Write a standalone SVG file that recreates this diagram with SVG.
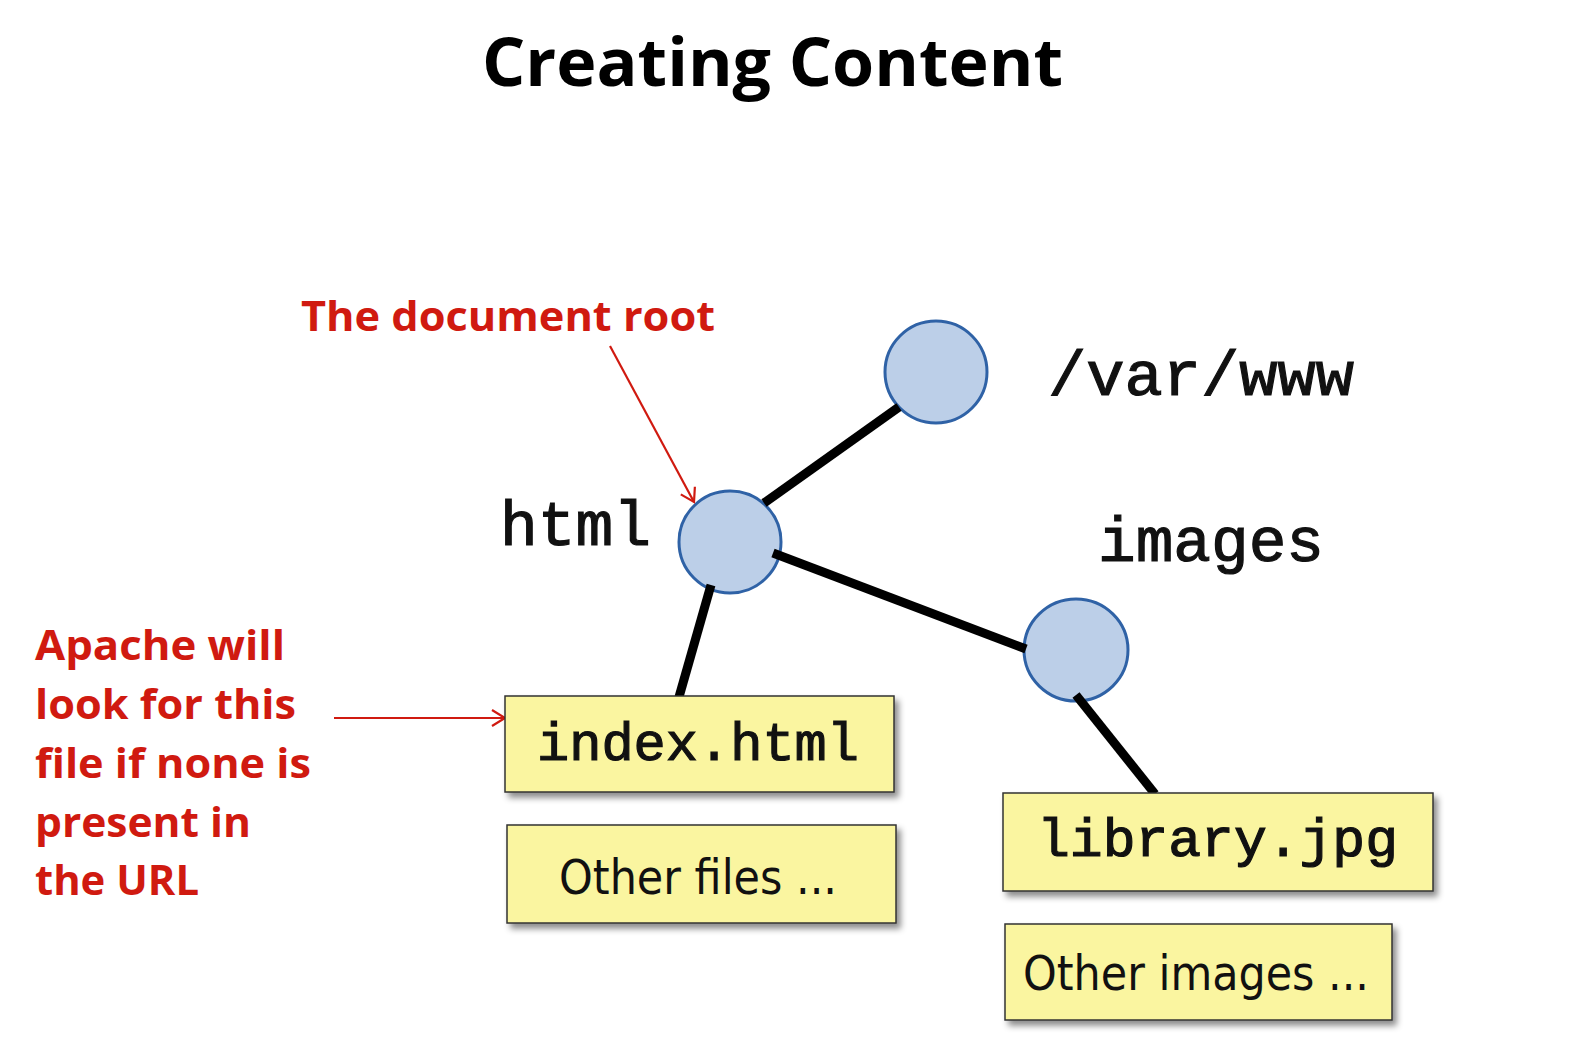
<svg xmlns="http://www.w3.org/2000/svg" width="1588" height="1062" viewBox="0 0 1588 1062">
<style>
.title{font-family:"Open Sans","Liberation Sans",sans-serif;font-weight:700;font-size:66px;fill:#000}
.red{font-family:"Open Sans","Liberation Sans",sans-serif;font-weight:700;font-size:42px;fill:#D01A10}
.mono{font-family:"Liberation Mono","DejaVu Sans Mono",monospace;font-weight:400;fill:#111;stroke:#111;stroke-width:1.2}
.lbl{font-size:63px}
.boxt{font-size:54px}
.sans{font-family:"DejaVu Sans","Liberation Sans",sans-serif;font-size:48px;fill:#111}
.node circle,.node ellipse{fill:#BCCFE8;stroke:#2F62A6;stroke-width:3}
.box rect{fill:#FAF5A0;stroke:#333;stroke-width:1.5}
.edge{stroke:#000;stroke-width:9;stroke-linecap:butt}
.ann{stroke:#D01A10;stroke-width:2.2;fill:none}
</style>
<defs>
<filter id="sh" x="-10%" y="-20%" width="130%" height="150%">
<feDropShadow dx="4" dy="5" stdDeviation="3" flood-color="#000" flood-opacity="0.45"/>
</filter>
<marker id="arr" markerWidth="20" markerHeight="20" refX="16" refY="10" orient="auto" markerUnits="userSpaceOnUse">
<path d="M3,2 L16,10 L3,18" fill="none" stroke="#D01A10" stroke-width="2.2"/>
</marker>
</defs>
<rect width="1588" height="1062" fill="#fff"/>
<text class="title" x="482" y="86" textLength="581" lengthAdjust="spacingAndGlyphs">Creating Content</text>

<g id="nodes-circles">
<g id="node-varwww" class="node"><ellipse cx="936" cy="372" rx="51" ry="51"/></g>
<g id="node-html" class="node"><ellipse cx="730" cy="542" rx="51" ry="51"/></g>
<g id="node-images" class="node"><ellipse cx="1076" cy="650" rx="52" ry="51"/></g>
</g>

<g id="connectors">
<line class="edge" x1="899" y1="407" x2="764" y2="503"/>
<line class="edge" x1="773" y1="553" x2="1026" y2="649"/>
<line class="edge" x1="711" y1="585" x2="679" y2="697"/>
<line class="edge" x1="1076" y1="695" x2="1155" y2="794"/>
<line class="ann" x1="610" y1="346" x2="694" y2="502" marker-end="url(#arr)"/>
<line class="ann" x1="334" y1="718" x2="505" y2="718" marker-end="url(#arr)"/>
</g>

<g id="labels">
<text class="mono lbl" x="1048" y="395" textLength="306" lengthAdjust="spacingAndGlyphs">/var/www</text>
<text class="mono lbl" x="500" y="545" textLength="151" lengthAdjust="spacingAndGlyphs">html</text>
<text class="mono lbl" x="1098" y="561" textLength="226" lengthAdjust="spacingAndGlyphs">images</text>
</g>

<g id="node-index" class="box">
<rect x="505" y="696" width="389" height="96" filter="url(#sh)"/>
<text class="mono boxt" x="537" y="760" textLength="322" lengthAdjust="spacingAndGlyphs">index.html</text>
</g>
<g id="node-otherfiles" class="box">
<rect x="507" y="825" width="389" height="98" filter="url(#sh)"/>
<text class="sans" x="559" y="894" textLength="278" lengthAdjust="spacingAndGlyphs">Other files ...</text>
</g>
<g id="node-library" class="box">
<rect x="1003" y="793" width="430" height="98" filter="url(#sh)"/>
<text class="mono boxt" x="1037" y="856" textLength="361" lengthAdjust="spacingAndGlyphs">library.jpg</text>
</g>
<g id="node-otherimages" class="box">
<rect x="1005" y="924" width="387" height="96" filter="url(#sh)"/>
<text class="sans" x="1023" y="990" textLength="346" lengthAdjust="spacingAndGlyphs">Other images ...</text>
</g>

<g id="annotations">
<text class="red" x="301" y="331" textLength="414" lengthAdjust="spacingAndGlyphs">The document root</text>
<text class="red" x="35" y="660" textLength="250" lengthAdjust="spacingAndGlyphs">Apache will</text>
<text class="red" x="35" y="719" textLength="261" lengthAdjust="spacingAndGlyphs">look for this</text>
<text class="red" x="35" y="778" textLength="276" lengthAdjust="spacingAndGlyphs">file if none is</text>
<text class="red" x="35" y="837" textLength="216" lengthAdjust="spacingAndGlyphs">present in</text>
<text class="red" x="35" y="895" textLength="164" lengthAdjust="spacingAndGlyphs">the URL</text>
</g>
</svg>
